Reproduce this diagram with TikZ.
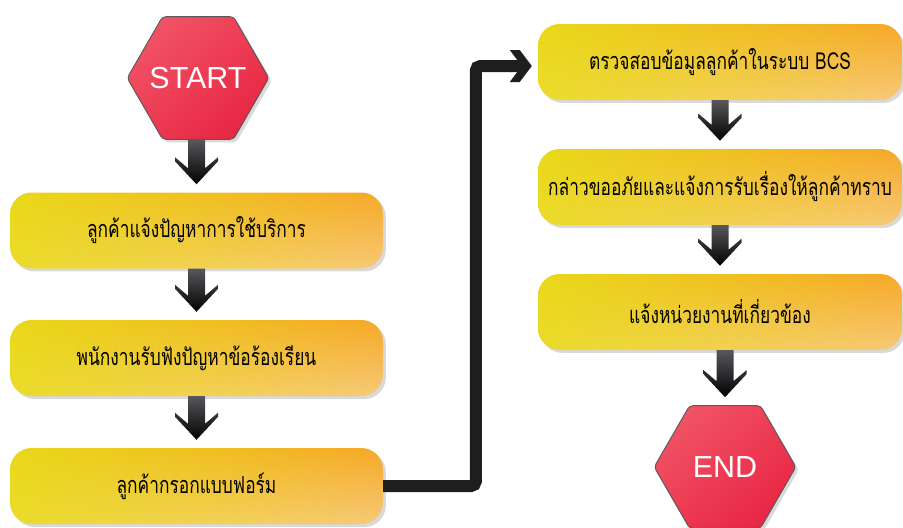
\documentclass[tikz,border=0pt]{standalone}
\usepackage{fontspec}
\setmainfont{Liberation Sans}
\newfontfamily\thaifont[Script=Thai,FakeStretch=0.74]{Loma}
\usetikzlibrary{calc,shapes.geometric,shadows,shadings}
\definecolor{BoxYellow}{RGB}{233,216,24}
\definecolor{BoxOrange}{RGB}{246,168,40}
\definecolor{BoxLight}{RGB}{247,200,120}
\definecolor{StopLight}{RGB}{242,92,108}
\definecolor{StopRed}{RGB}{237,60,84}
\definecolor{StopDark}{RGB}{230,30,62}
\definecolor{ArrowTop}{RGB}{88,88,92}
\definecolor{ArrowClr}{RGB}{30,30,32}

\newcommand{\flowarrow}[2]{%
  \coordinate (tip) at ($(#2.north)+(0,-8)$);
  \path[arrowshape] ($(#1.south -| tip)+(-8.5,0)$) -- ($(tip)+(-8.5,-16)$)
    -- ($(tip)+(-21.5,-27)$) -- ($(tip)+(-21.5,-23)$) -- (tip)
    -- ($(tip)+(21.5,-23)$) -- ($(tip)+(21.5,-27)$) -- ($(tip)+(8.5,-16)$)
    -- ($(#1.south -| tip)+(8.5,0)$) -- cycle;}

\begin{document}
\begin{tikzpicture}[x=0.03cm,y=-0.03cm,
  stepbox/.style={rectangle,rounded corners=0.65cm,minimum width=11.19cm,minimum height=2.28cm,
    upper left=BoxYellow,lower left=BoxYellow!92!white,upper right=BoxOrange,lower right=BoxLight,
    drop shadow={opacity=.3,shadow xshift=2.5pt,shadow yshift=-2.5pt},
    font=\thaifont\fontsize{20}{24}\selectfont},
  stopsign/.style={regular polygon,regular polygon sides=6,minimum size=4.25cm,inner sep=0pt,
    rounded corners=3pt,draw=gray!70!black,line width=0.8pt,
    upper left=StopLight,upper right=StopRed,lower left=StopRed,lower right=StopDark,
    drop shadow={opacity=.3,shadow xshift=2.5pt,shadow yshift=-2.5pt},
    text=white,font=\fontsize{26}{30}\selectfont},
  arrowshape/.style={top color=ArrowTop,bottom color=black},
  connline/.style={draw=ArrowClr,line width=0.36cm,rounded corners=4pt}]
\useasboundingbox (0,0) rectangle (903,527);

\node[stopsign] (start) at (198,78) {\makebox[0pt]{START}};
\node[stepbox] (b1) at (196.5,230.5) {ลูกค้าแจ้งปัญหาการใช้บริการ};
\node[stepbox] (b2) at (196.5,358) {พนักงานรับฟังปัญหาข้อร้องเรียน};
\node[stepbox] (b3) at (196.5,486) {ลูกค้ากรอกแบบฟอร์ม};

\node[stepbox,minimum width=10.92cm] (r1) at (720,62) {ตรวจสอบข้อมูลลูกค้าในระบบ BCS};
\node[stepbox,minimum width=10.92cm] (r2) at (720,187) {กล่าวขออภัยและแจ้งการรับเรื่องให้ลูกค้าทราบ};
\node[stepbox,minimum width=10.92cm] (r3) at (720,312) {แจ้งหน่วยงานที่เกี่ยวข้อง};
\node[stopsign] (end) at (725,467) {\makebox[0pt]{END}};

\flowarrow{start}{b1}
\flowarrow{b1}{b2}
\flowarrow{b2}{b3}
\flowarrow{r1}{r2}
\flowarrow{r2}{r3}
\flowarrow{r3}{end}

\coordinate (ctip) at ($(r1.west)+(-6,4)$);
\draw[connline] (b3.east) -- ($(b3.east -| r1.west)+(-62,0)$) |- ($(ctip)+(-9,0)$);
\fill[ArrowClr] (ctip) -- ++(-12,-16) -- ++(-10,0) -- ++(12,16) -- ++(-12,16) -- ++(10,0) -- cycle;

\end{tikzpicture}
\end{document}
